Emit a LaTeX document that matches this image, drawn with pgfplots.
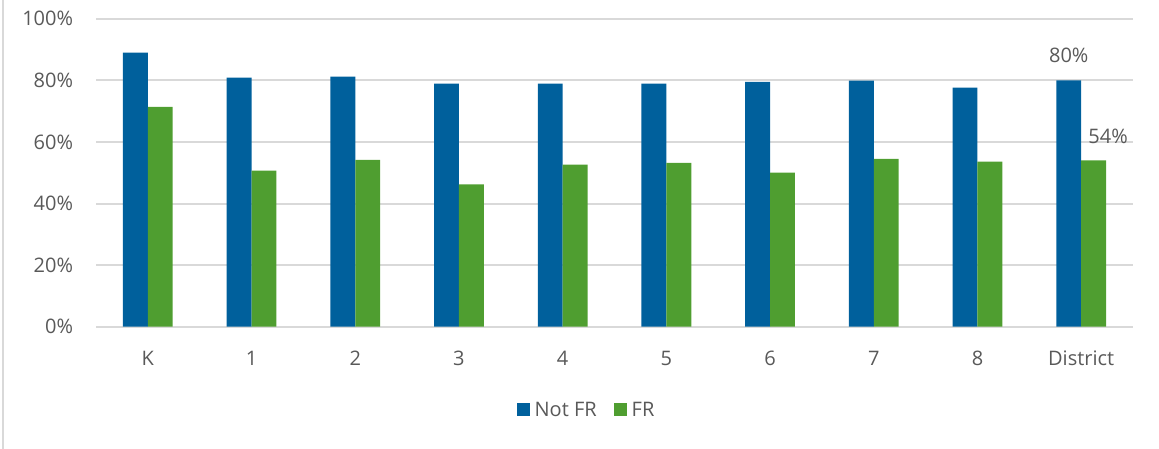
\documentclass[border=0pt]{standalone}
\usepackage{fontspec}
\setmainfont{Open Sans}
\usepackage{pgfplots}
\pgfplotsset{compat=1.18}
\definecolor{notfr}{HTML}{00609C}
\definecolor{fr}{HTML}{4F9E30}
\definecolor{gridc}{HTML}{D9D9D9}
\definecolor{txt}{HTML}{595959}
\begin{document}
\begin{tikzpicture}
\path[use as bounding box] (0pt,0pt) rectangle (869.25pt,336.75pt);
\draw[gridc, line width=1.5pt] (2.25pt,0pt) -- (2.25pt,336.75pt);
\begin{axis}[
    at={(72pt,91.7pt)}, anchor=south west,
    scale only axis,
    width=777.75pt, height=231pt,
    ybar=0pt,
    bar width=0.24,
    xmin=-0.5, xmax=9.5,
    ymin=0, ymax=100,
    xtick=data,
    xticklabels={K,1,2,3,4,5,6,7,8,District},
    ytick={0,20,...,100},
    yticklabel={\pgfmathprintnumber{\tick}\%},
    /pgf/number format/assume math mode=true,
    axis line style={draw=none},
    major tick length=0pt,
    ymajorgrids,
    grid style={gridc, line width=1.5pt},
    every tick label/.append style={font=\fontsize{15}{17}\selectfont, text=txt},
    yticklabel style={anchor=east, inner sep=0pt, xshift=-17pt},
    xticklabel style={anchor=north, inner sep=0pt, yshift=-18pt},
    legend style={at={(0.4735,-0.27)}, anchor=center, draw=none,
        legend columns=-1, font=\fontsize{15}{17}\selectfont, text=txt,
        /tikz/every odd column/.append style={column sep=1.5pt},
        /tikz/every even column/.append style={column sep=11pt}},
    legend image code/.code={\fill[#1] (0pt,-4.9pt) rectangle (9.75pt,4.9pt);},
]
\addplot[fill=notfr, draw=none] coordinates {
    (0,89.0) (1,80.9) (2,81.2) (3,78.9) (4,78.9)
    (5,78.9) (6,79.5) (7,79.9) (8,77.6) (9,80.0)};
\addplot[fill=fr, draw=none] coordinates {
    (0,71.4) (1,50.7) (2,54.2) (3,46.2) (4,52.6)
    (5,53.2) (6,50.0) (7,54.5) (8,53.6) (9,54.0)};
\legend{Not FR, FR}
\node[text=txt, font=\fontsize{15}{17}\selectfont] at (axis cs:8.88,88.2) {80\%};
\node[text=txt, font=\fontsize{15}{17}\selectfont] at (axis cs:9.26,61.9) {54\%};
\end{axis}
\end{tikzpicture}
\end{document}
